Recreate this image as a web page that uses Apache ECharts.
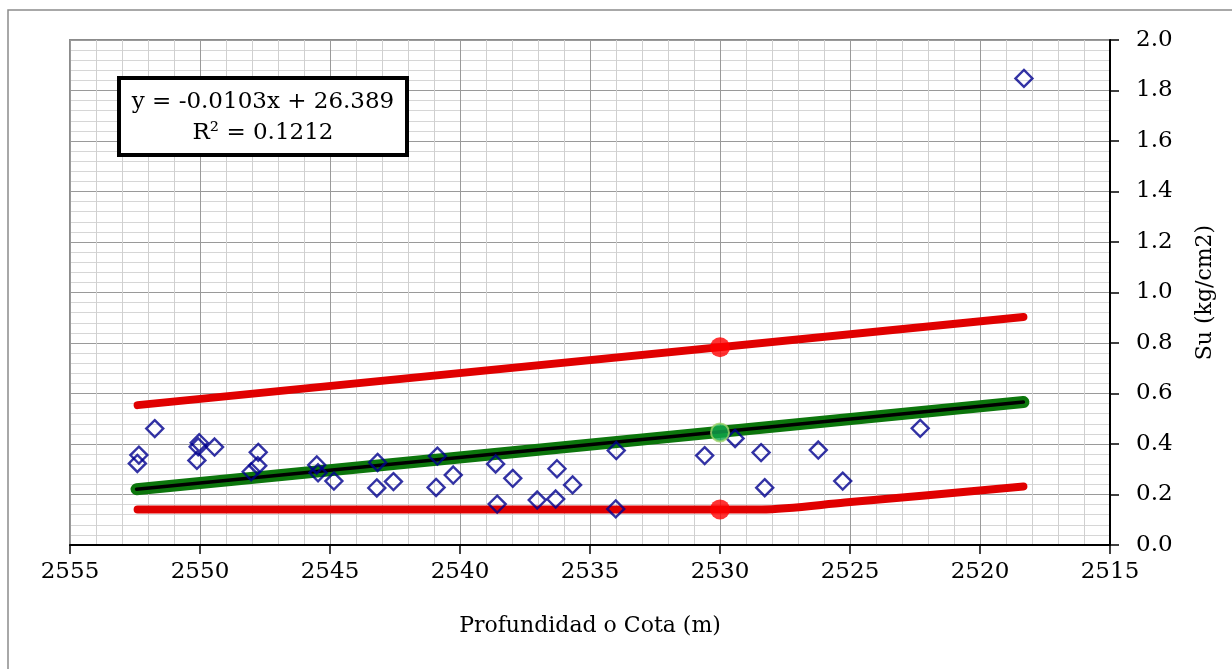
<!DOCTYPE html>
<html>
<head>
<meta charset="utf-8">
<script src="https://cdn.jsdelivr.net/npm/echarts@6/dist/echarts.min.js"></script>
<style>
  html, body { margin: 0; padding: 0; background: #fff; }
  #chart { width: 1232px; height: 669px; }
</style>
</head>
<body>
<div id="chart"></div>
<script>
// Measured undrained shear strength against depth / elevation
const depth = [2552.35, 2552.41, 2551.74, 2550.03, 2550.07, 2550.12, 2549.44, 2547.76, 2547.78, 2548.03,
  2545.51, 2545.46, 2544.85, 2543.17, 2543.20, 2542.56, 2540.87, 2540.92, 2540.26, 2538.63,
  2538.57, 2537.97, 2537.03, 2536.32, 2536.27, 2535.67, 2533.99, 2534.01, 2530.59, 2529.42,
  2528.42, 2528.28, 2526.22, 2525.28, 2522.30, 2518.31];
const su = [0.356, 0.323, 0.461, 0.405, 0.389, 0.335, 0.388, 0.367, 0.314, 0.290,
  0.317, 0.286, 0.253, 0.327, 0.226, 0.251, 0.352, 0.228, 0.277, 0.321,
  0.162, 0.264, 0.178, 0.182, 0.302, 0.238, 0.374, 0.143, 0.354, 0.422,
  0.366, 0.227, 0.376, 0.253, 0.462, 1.848];

// Linear trend line (end points)
const trendX = [2552.44, 2518.33];
const trendY = [0.221, 0.566];

// Upper design envelope
const upperX = [2552.40, 2518.33];
const upperY = [0.554, 0.903];

// Lower design envelope
const lowerX = [2552.40, 2528.40, 2525.20, 2518.33];
const lowerY = [0.141, 0.141, 0.168, 0.232];

// Reference values at 2530 m
const refX = 2530;
const refUpper = 0.783;
const refTrend = 0.446;
const refLower = 0.141;

const xTicks = [2555, 2550, 2545, 2540, 2535, 2530, 2525, 2520, 2515];
const yTicks = [0, 0.2, 0.4, 0.6, 0.8, 1.0, 1.2, 1.4, 1.6, 1.8, 2.0];

const equationText = 'y = -0.0103x + 26.389';
const r2Text = 'R\u00B2 = 0.1212';

const zip = (a, b) => a.map((v, i) => [v, b[i]]);
const FONT = 'DejaVu Serif';

const chart = echarts.init(document.getElementById('chart'), null, { renderer: 'canvas' });

chart.setOption({
  backgroundColor: '#fff',
  animation: false,
  grid: {
    left: 70, right: 122, top: 40, bottom: 124,
    show: true, borderColor: '#8c8c8c', borderWidth: 2, backgroundColor: 'transparent'
  },
  xAxis: {
    type: 'value',
    inverse: true,
    min: xTicks[xTicks.length - 1],
    max: xTicks[0],
    interval: 5,
    name: 'Profundidad o Cota (m)',
    nameLocation: 'middle',
    nameGap: 70,
    nameTextStyle: { fontFamily: FONT, fontSize: 22, color: '#000' },
    axisLine: { onZero: false, lineStyle: { color: '#000', width: 2 } },
    axisTick: { show: true, inside: false, length: 9, lineStyle: { color: '#000', width: 1.5 } },
    axisLabel: {
      margin: 16, fontFamily: FONT, fontSize: 23, color: '#000',
      formatter: v => String(v)
    },
    splitLine: { show: true, lineStyle: { color: '#9a9a9a', width: 1 } },
    minorTick: { show: false, splitNumber: 5 },
    minorSplitLine: { show: true, lineStyle: { color: '#d0d0d0', width: 1 } }
  },
  yAxis: {
    type: 'value',
    position: 'right',
    min: yTicks[0],
    max: yTicks[yTicks.length - 1],
    interval: 0.2,
    name: 'Su (kg/cm2)',
    nameLocation: 'middle',
    nameRotate: 90,
    nameGap: 84,
    nameTextStyle: { fontFamily: FONT, fontSize: 22, color: '#000' },
    axisLine: { onZero: false, lineStyle: { color: '#000', width: 2 } },
    axisTick: { show: true, inside: false, length: 9, lineStyle: { color: '#000', width: 1.5 } },
    axisLabel: {
      margin: 26, fontFamily: FONT, fontSize: 23, color: '#000',
      formatter: v => v.toFixed(1)
    },
    splitLine: { show: true, lineStyle: { color: '#9a9a9a', width: 1 } },
    minorTick: { show: false, splitNumber: 5 },
    minorSplitLine: { show: true, lineStyle: { color: '#d6d6d6', width: 1 } }
  },
  series: [
    {
      name: 'Límite superior',
      type: 'line',
      data: zip(upperX, upperY),
      symbol: 'none',
      lineStyle: { color: '#e00000', width: 8, cap: 'round' },
      z: 3
    },
    {
      name: 'Límite inferior',
      type: 'line',
      data: zip(lowerX, lowerY),
      symbol: 'none',
      smooth: 0.3,
      lineStyle: { color: '#e00000', width: 8, cap: 'round', join: 'round' },
      z: 3
    },
    {
      name: 'Tendencia',
      type: 'line',
      data: zip(trendX, trendY),
      symbol: 'none',
      lineStyle: { color: '#0c760c', width: 12, cap: 'round' },
      z: 4
    },
    {
      name: 'Tendencia lineal',
      type: 'line',
      data: zip(trendX, trendY),
      symbol: 'none',
      lineStyle: { color: '#000', width: 3.5, cap: 'round' },
      z: 5
    },
    {
      name: 'Su',
      type: 'scatter',
      data: zip(depth, su),
      symbol: 'diamond',
      symbolSize: [17, 17],
      itemStyle: { color: 'rgba(255,255,255,0)', borderColor: '#00008f', borderWidth: 2.4 },
      z: 6
    },
    {
      name: 'Su 2530',
      type: 'scatter',
      data: [[refX, refUpper], [refX, refLower]],
      symbol: 'circle',
      symbolSize: 20,
      itemStyle: { color: '#ff0000' },
      z: 7
    },
    {
      name: 'Su medio 2530',
      type: 'scatter',
      data: [[refX, refTrend]],
      symbol: 'circle',
      symbolSize: 18,
      itemStyle: { color: '#12a84e', borderColor: '#9fd36a', borderWidth: 2 },
      z: 7
    }
  ],
  graphic: [
    {
      type: 'rect',
      shape: { x: 8, y: 10, width: 1300, height: 800 },
      style: { fill: 'none', stroke: '#8c8c8c', lineWidth: 1.5 },
      silent: true, z: 0
    },
    {
      type: 'rect',
      shape: { x: 119, y: 78, width: 288, height: 77 },
      style: { fill: '#fff', stroke: '#000', lineWidth: 4 },
      z: 20
    },
    {
      type: 'text',
      x: 263, y: 102,
      style: { text: equationText, fontFamily: FONT, fontSize: 23, fill: '#000', align: 'center', verticalAlign: 'middle' },
      z: 21
    },
    {
      type: 'text',
      x: 263, y: 133,
      style: { text: r2Text, fontFamily: FONT, fontSize: 23, fill: '#000', align: 'center', verticalAlign: 'middle' },
      z: 21
    }
  ]
});
</script>
</body>
</html>
